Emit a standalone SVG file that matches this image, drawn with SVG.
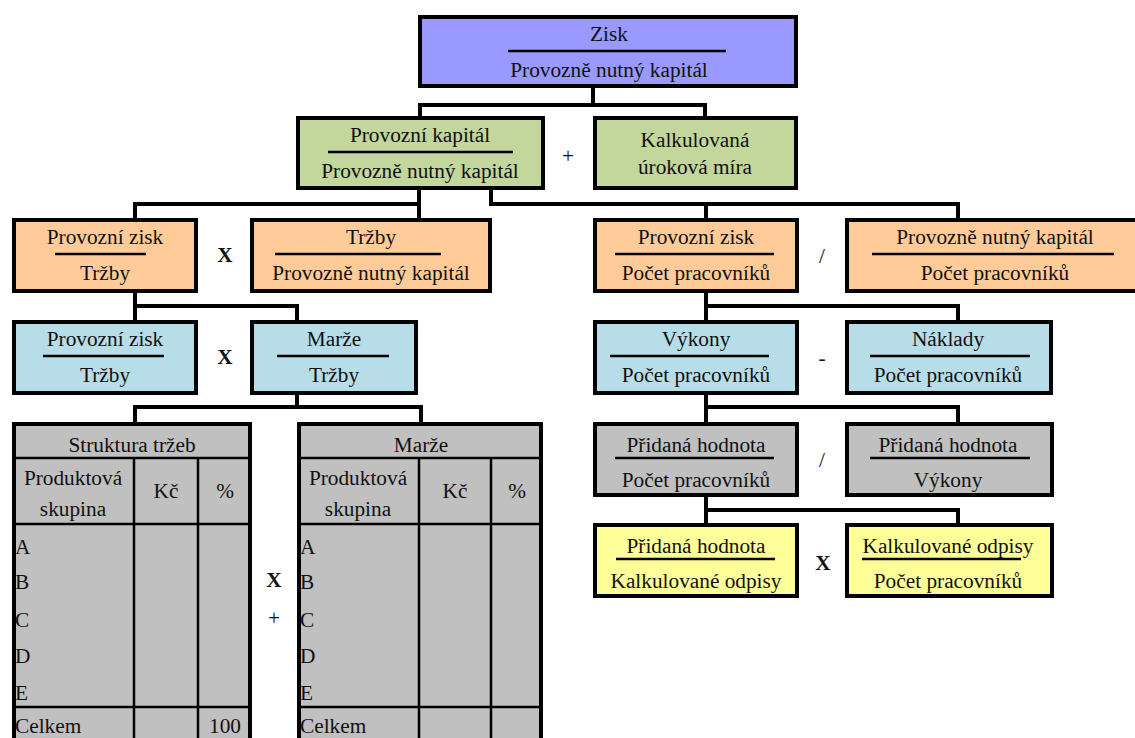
<svg xmlns="http://www.w3.org/2000/svg" width="1135" height="738" viewBox="0 0 1135 738">
<style>
text{font-family:"Liberation Serif","Times New Roman",serif;font-size:21.3px;fill:#111;text-anchor:middle}
.box{stroke:#000;stroke-width:4}
.pu{fill:#9999FF}.gr{fill:#C3D69B}.or{fill:#FFCC99}.bl{fill:#B7DDE8}.gy{fill:#C0C0C0}.ye{fill:#FFFF99}
.fl{stroke:#000;stroke-width:2.5}
.con path{fill:none;stroke:#000;stroke-width:4}
.op{font-weight:bold}
.tl{stroke:#000;stroke-width:2.5}
.lt{text-anchor:start}
</style>
<rect width="1135" height="738" fill="#fff"/>
<g class="con">
<path d="M593 88V105M420 116V105H705V116"/>
<path d="M419 190V218M135 218V204H419"/>
<path d="M491 190V204H958V218M706 204V218"/>
<path d="M135 293V320M135 306H297V320"/>
<path d="M706 293V320M706 306H958V320"/>
<path d="M297 395V407M135 422V407H421V422"/>
<path d="M706 395V422M706 407H958V422"/>
<path d="M706 497V523M706 510H958V523"/>
</g>
<g id="n-top"><rect class="box pu" x="420" y="17" width="376" height="69"/><text x="609" y="41">Zisk</text><line class="fl" x1="508" y1="51" x2="726" y2="51"/><text x="609" y="77">Provozně nutný kapitál</text></g>
<g id="n-pk"><rect class="box gr" x="298" y="118" width="245" height="70"/><text x="420" y="142">Provozní kapitál</text><line class="fl" x1="328" y1="152" x2="513" y2="152"/><text x="420" y="178">Provozně nutný kapitál</text></g>
<text x="568" y="163">+</text>
<g id="n-kalk"><rect class="box gr" x="595" y="118" width="201" height="70"/><text x="695" y="147">Kalkulovaná</text><text x="695" y="174">úroková míra</text></g>

<g id="n-r3a"><rect class="box or" x="14" y="220" width="182" height="71"/><text x="105" y="244">Provozní zisk</text><line class="fl" x1="55" y1="254" x2="146" y2="254"/><text x="105" y="280">Tržby</text></g>
<text class="op" x="225" y="262">X</text>
<g id="n-r3b"><rect class="box or" x="252" y="220" width="238" height="71"/><text x="371" y="244">Tržby</text><line class="fl" x1="275" y1="254" x2="441" y2="254"/><text x="371" y="280">Provozně nutný kapitál</text></g>
<g id="n-r3c"><rect class="box or" x="595" y="220" width="202" height="71"/><text x="696" y="244">Provozní zisk</text><line class="fl" x1="615" y1="254" x2="774" y2="254"/><text x="696" y="280">Počet pracovníků</text></g>
<text x="822" y="263">/</text>
<g id="n-r3d"><rect class="box or" x="847" y="220" width="297" height="71"/><text x="995" y="244">Provozně nutný kapitál</text><line class="fl" x1="872" y1="254" x2="1114" y2="254"/><text x="995" y="280">Počet pracovníků</text></g>

<g id="n-r4a"><rect class="box bl" x="14" y="322" width="182" height="71"/><text x="105" y="346">Provozní zisk</text><line class="fl" x1="43" y1="356" x2="164" y2="356"/><text x="105" y="382">Tržby</text></g>
<text class="op" x="225" y="364">X</text>
<g id="n-r4b"><rect class="box bl" x="252" y="322" width="164" height="71"/><text x="334" y="346">Marže</text><line class="fl" x1="277" y1="356" x2="389" y2="356"/><text x="334" y="382">Tržby</text></g>
<g id="n-r4c"><rect class="box bl" x="595" y="322" width="202" height="71"/><text x="696" y="346">Výkony</text><line class="fl" x1="610" y1="356" x2="769" y2="356"/><text x="696" y="382">Počet pracovníků</text></g>
<text x="822" y="365">-</text>
<g id="n-r4d"><rect class="box bl" x="847" y="322" width="204" height="71"/><text x="948" y="346">Náklady</text><line class="fl" x1="870" y1="356" x2="1030" y2="356"/><text x="948" y="382">Počet pracovníků</text></g>

<g id="n-r5c"><rect class="box gy" x="595" y="424" width="202" height="71"/><text x="696" y="452">Přidaná hodnota</text><line class="fl" x1="615" y1="458" x2="774" y2="458"/><text x="696" y="487">Počet pracovníků</text></g>
<text x="822" y="467">/</text>
<g id="n-r5d"><rect class="box gy" x="847" y="424" width="205" height="71"/><text x="948" y="452">Přidaná hodnota</text><line class="fl" x1="870" y1="458" x2="1030" y2="458"/><text x="948" y="487">Výkony</text></g>

<g id="n-r6c"><rect class="box ye" x="595" y="525" width="202" height="71"/><text x="696" y="553">Přidaná hodnota</text><line class="fl" x1="616" y1="559" x2="775" y2="559"/><text x="696" y="588">Kalkulované odpisy</text></g>
<text class="op" x="823" y="570">X</text>
<g id="n-r6d"><rect class="box ye" x="847" y="525" width="205" height="71"/><text x="948" y="553">Kalkulované odpisy</text><line class="fl" x1="862" y1="559" x2="1021" y2="559"/><text x="948" y="588">Počet pracovníků</text></g>

<g id="t-left">
<rect class="box gy" x="14" y="424" width="236" height="330"/>
<line class="tl" x1="14" y1="458" x2="250" y2="458"/>
<line class="tl" x1="14" y1="524" x2="250" y2="524"/>
<line class="tl" x1="14" y1="707" x2="250" y2="707"/>
<line class="tl" x1="134" y1="458" x2="134" y2="738"/>
<line class="tl" x1="198" y1="458" x2="198" y2="738"/>
<text x="132" y="452">Struktura tržeb</text>
<text x="73" y="485">Produktová</text><text x="73" y="516">skupina</text>
<text x="166" y="498">Kč</text><text x="225" y="498">%</text>
<text class="lt" x="15" y="554">A</text><text class="lt" x="15" y="589">B</text><text class="lt" x="15" y="627">C</text><text class="lt" x="15" y="663">D</text><text class="lt" x="15" y="700">E</text>
<text class="lt" x="15" y="733">Celkem</text><text x="225" y="733">100</text>
</g>
<text class="op" x="274" y="587">X</text>
<text x="274" y="625">+</text>
<g id="t-right">
<rect class="box gy" x="299" y="424" width="242" height="330"/>
<line class="tl" x1="299" y1="458" x2="541" y2="458"/>
<line class="tl" x1="299" y1="524" x2="541" y2="524"/>
<line class="tl" x1="299" y1="707" x2="541" y2="707"/>
<line class="tl" x1="419" y1="458" x2="419" y2="738"/>
<line class="tl" x1="491" y1="458" x2="491" y2="738"/>
<text x="421" y="452">Marže</text>
<text x="358" y="485">Produktová</text><text x="358" y="516">skupina</text>
<text x="455" y="498">Kč</text><text x="517" y="498">%</text>
<text class="lt" x="300" y="554">A</text><text class="lt" x="300" y="589">B</text><text class="lt" x="300" y="627">C</text><text class="lt" x="300" y="663">D</text><text class="lt" x="300" y="700">E</text>
<text class="lt" x="300" y="733">Celkem</text>
</g>
</svg>
